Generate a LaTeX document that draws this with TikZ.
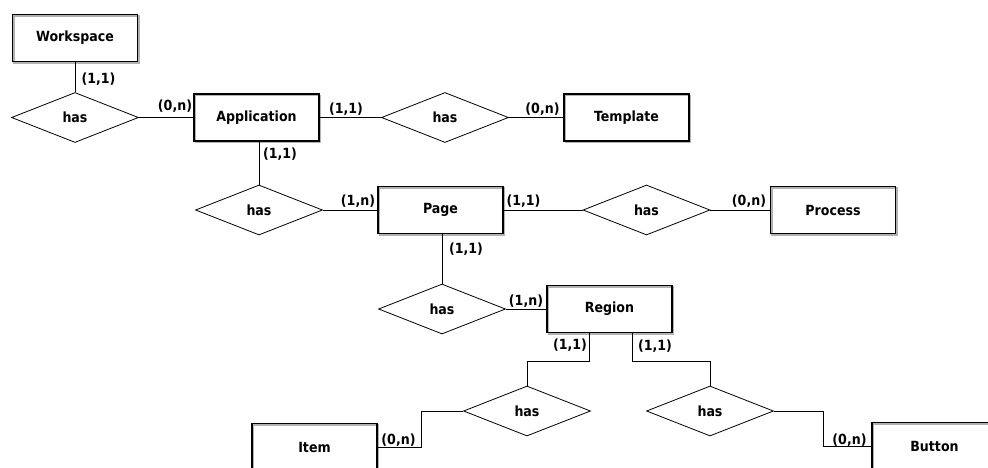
\documentclass[tikz,border=0pt]{standalone}
\usepackage{fontspec}
\setmainfont{DejaVu Sans Condensed}
\usetikzlibrary{shapes.geometric}
\begin{document}
\begin{tikzpicture}[x=1pt,y=-1pt,
  lbl/.style={font=\bfseries\fontsize{14}{16}\selectfont},
  entity/.style={lbl, draw=black, line width=1.1pt, minimum width=125pt,
    minimum height=47pt, inner sep=0pt,
    preaction={draw=black!30, line width=1.2pt,
      transform canvas={xshift=1.4pt,yshift=-1.4pt}}},
  rel/.style={lbl, diamond, draw=black, line width=0.8pt, minimum width=127pt,
    minimum height=50pt, inner sep=0pt},
  card/.style={lbl, inner sep=0pt},
  conn/.style={line width=0.9pt}]
\clip (0,0) rectangle (988,467);
\useasboundingbox (0,0) rectangle (988,467);

% entities
\node[entity] (ws)  at (75,38)      {Workspace};
\node[entity] (app) at (256.5,117.5) {Application};
\node[entity] (tpl) at (626.5,117.5) {Template};
\node[entity] (pg)  at (440.5,210)  {Page};
\node[entity] (pr)  at (833,210)    {Process};
\node[entity] (rg)  at (609.5,309)  {Region};
\node[entity] (it)  at (314.5,447)  {Item};
\node[entity] (bt)  at (934.5,446)  {Button};

% relationships
\node[rel] (d1) at (75,117.5)  {has};
\node[rel] (d2) at (445,117.5) {has};
\node[rel] (d3) at (259,210)   {has};
\node[rel] (d4) at (646.5,210) {has};
\node[rel] (d5) at (442,309)   {has};
\node[rel] (d6) at (527,411)   {has};
\node[rel] (d7) at (710,411)   {has};

% connectors
\draw[conn] (ws) -- (d1);
\draw[conn] (d1) -- (app);
\draw[conn] (app) -- (d2);
\draw[conn] (d2) -- (tpl);
\draw[conn] (app.south -| d3.north) -- (d3.north);
\draw[conn] (d3) -- (pg);
\draw[conn] (pg) -- (d4);
\draw[conn] (d4) -- (pr);
\draw[conn] (pg.south -| d5.north) -- (d5.north);
\draw[conn] (d5) -- (rg);
\draw[conn] ([xshift=-20.5pt]rg.south) -- ++(0,28) -| (d6.north);
\draw[conn] ([xshift=22.5pt]rg.south) -- ++(0,28) -| (d7.north);
\draw[conn] (d6.west) -- ++(-42,0) |- (it.east);
\draw[conn] (d7.east) -- ++(50,0) |- (bt.west);

% cardinalities
\node[card] (c1)  at (98.5,79)  {(1,1)};
\node[card] (c2)  at (175,106)  {(0,n)};
\node[card] (c3)  at (280,154)  {(1,1)};
\node[card] (c4)  at (346,109)  {(1,1)};
\node[card] (c5)  at (542.5,109) {(0,n)};
\node[card] (c6)  at (358,201)  {(1,n)};
\node[card] (c7)  at (523.5,201) {(1,1)};
\node[card] (c8)  at (749,201)  {(0,n)};
\node[card] (c9)  at (466,249)  {(1,1)};
\node[card] (c10) at (526,301)  {(1,n)};
\node[card] (c11) at (570,345)  {(1,1)};
\node[card] (c12) at (655,346)  {(1,1)};
\node[card] (c13) at (398.5,440) {(0,n)};
\node[card] (c14) at (849.5,440) {(0,n)};
\end{tikzpicture}
\end{document}
